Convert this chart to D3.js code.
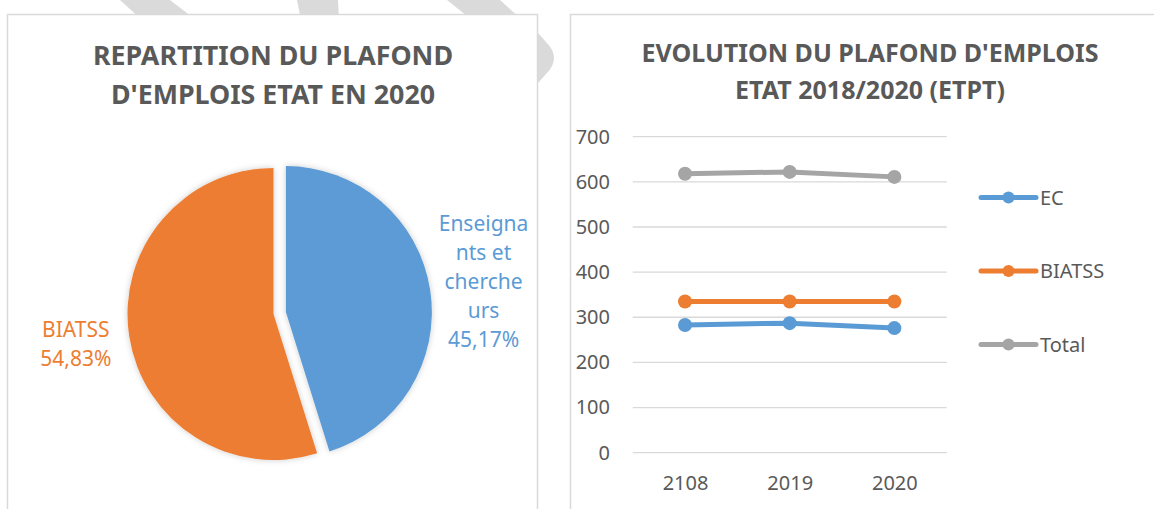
<!DOCTYPE html>
<html>
<head>
<meta charset="utf-8">
<script src="https://cdn.jsdelivr.net/npm/d3@7"></script>
<style>
  body { margin: 0; background: #fff; }
  svg { display: block; font-family: "Noto Sans", "Open Sans", sans-serif; }
</style>
</head>
<body>
<script>
// pie data (2020)
var pieNames = ["Enseignants et chercheurs", "BIATSS"];
var pieLabels = [["Enseigna", "nts et", "cherche", "urs", "45,17%"], ["BIATSS", "54,83%"]];
var pieValues = [45.17, 54.83];
var pieColors = ["#5b9bd5", "#ed7d31"];

// line chart data
var years = ["2108", "2019", "2020"];
var seriesNames = ["EC", "BIATSS", "Total"];
var ecValues = [283, 287, 276];
var biatssValues = [335, 335, 335];
var totalValues = [618, 622, 611];
var seriesColors = ["#5b9bd5", "#ed7d31", "#a5a5a5"];
var yTicks = [0, 100, 200, 300, 400, 500, 600, 700];

var width = 1154, height = 509;

var svg = d3.select("body").append("svg")
    .attr("width", width)
    .attr("height", height);

var defs = svg.append("defs");
var f = defs.append("filter").attr("id", "shadow")
    .attr("x", "-20%").attr("y", "-20%").attr("width", "140%").attr("height", "140%");
f.append("feDropShadow").attr("dx", 0).attr("dy", 0).attr("stdDeviation", 3)
    .attr("flood-color", "#000").attr("flood-opacity", 0.2);

// watermark bits peeking out behind the panels
var wm = svg.append("g").attr("fill", "#dadada");
wm.append("path").attr("d", "M120,0 L170,0 L196,20 L142,20 Z");
wm.append("path").attr("d", "M297,0 L338,0 L339,20 L301,20 Z");
wm.append("path").attr("d", "M447,0 L500,0 L522,20 L472,20 Z");
wm.append("path").attr("d", "M530,24 L546,42 Q562,58 546,74 L530,92 Z");

// panels
svg.append("rect").attr("x", 7.5).attr("y", 14.5).attr("width", 530).attr("height", 520)
    .attr("fill", "#fff").attr("stroke", "#d9d9d9").attr("stroke-width", 1.5);
svg.append("rect").attr("x", 570.5).attr("y", 14.5).attr("width", 620).attr("height", 520)
    .attr("fill", "#fff").attr("stroke", "#d9d9d9").attr("stroke-width", 1.5);

// ---------- pie ----------
var titleStyle = function (t, size) {
  t.attr("text-anchor", "middle").attr("font-weight", "bold")
    .attr("font-size", size).attr("fill", "#595959");
};
var t1 = svg.append("text").attr("x", 273).attr("y", 65).call(titleStyle, 26.8);
t1.append("tspan").attr("x", 273).text("REPARTITION DU PLAFOND");
t1.append("tspan").attr("x", 273).attr("dy", 39).text("D'EMPLOIS ETAT EN 2020");

var cx = 273.5, cy = 314, r = 146, explode = 12.5;
var pie = d3.pie().sort(null)(pieValues);
var arc = d3.arc().innerRadius(0).outerRadius(r);
var gPie = svg.append("g").attr("transform", "translate(" + cx + "," + cy + ")");

pie.forEach(function (d, i) {
  var mid = (d.startAngle + d.endAngle) / 2;
  var off = i === 0 ? explode : 0;
  var ox = Math.sin(mid) * off, oy = -Math.cos(mid) * off;
  var g = gPie.append("g").attr("transform", "translate(" + ox + "," + oy + ")");
  g.append("path").attr("d", arc(d)).attr("fill", pieColors[i]).attr("filter", "url(#shadow)");
  var lr = 200;
  var lx = Math.sin(mid) * lr, ly = -Math.cos(mid) * lr;
  var lines = pieLabels[i], lh = 29;
  var txt = g.append("text").attr("text-anchor", "middle").attr("font-size", 21)
      .attr("fill", pieColors[i])
      .attr("y", ly - (lines.length - 1) * lh / 2);
  lines.forEach(function (s, j) {
    txt.append("tspan").attr("x", lx).attr("dy", j === 0 ? "0.35em" : lh).text(s);
  });
});

// ---------- line chart ----------
var t2 = svg.append("text").attr("x", 870).attr("y", 62).call(titleStyle, 25);
t2.append("tspan").attr("x", 870).text("EVOLUTION DU PLAFOND D'EMPLOIS");
t2.append("tspan").attr("x", 870).attr("dy", 37).text("ETAT 2018/2020 (ETPT)");

var x = d3.scalePoint().domain(years).range([632.7, 946.7]).padding(0.5);
var y = d3.scaleLinear().domain([0, 700]).range([452.7, 136.7]);

var grid = svg.append("g");
grid.selectAll("line").data(yTicks).enter().append("line")
    .attr("x1", 632.7).attr("x2", 946.7)
    .attr("y1", function (d) { return y(d); })
    .attr("y2", function (d) { return y(d); })
    .attr("stroke", "#d9d9d9").attr("stroke-width", 1.3);

var yAxis = svg.append("g").attr("transform", "translate(610,0)")
    .call(d3.axisLeft(y).tickValues(yTicks).tickSize(0).tickPadding(0));
yAxis.select(".domain").remove();
yAxis.selectAll("text").attr("font-size", 20).attr("fill", "#595959")
    .attr("font-family", "Noto Sans, Open Sans, sans-serif").attr("text-anchor", "end");

var xAxis = svg.append("g").attr("transform", "translate(0,476)")
    .call(d3.axisBottom(x).tickSize(0).tickPadding(0));
xAxis.select(".domain").remove();
xAxis.selectAll("text").attr("font-size", 20).attr("fill", "#595959")
    .attr("font-family", "Noto Sans, Open Sans, sans-serif");

var allSeries = [ecValues, biatssValues, totalValues];
var line = d3.line()
    .x(function (d, i) { return x(years[i]); })
    .y(function (d) { return y(d); });

allSeries.forEach(function (vals, s) {
  var g = svg.append("g");
  g.append("path").attr("d", line(vals)).attr("fill", "none")
      .attr("stroke", seriesColors[s]).attr("stroke-width", 5)
      .attr("stroke-linejoin", "round").attr("stroke-linecap", "round");
  g.selectAll("circle").data(vals).enter().append("circle")
      .attr("cx", function (d, i) { return x(years[i]); })
      .attr("cy", function (d) { return y(d); })
      .attr("r", 7).attr("fill", seriesColors[s]);
});

// legend
var leg = svg.append("g");
seriesNames.forEach(function (name, s) {
  var ly = 197.5 + s * 73.5;
  leg.append("line").attr("x1", 981).attr("x2", 1036).attr("y1", ly).attr("y2", ly)
      .attr("stroke", seriesColors[s]).attr("stroke-width", 5).attr("stroke-linecap", "round");
  leg.append("circle").attr("cx", 1008.5).attr("cy", ly).attr("r", 6).attr("fill", seriesColors[s]);
  leg.append("text").attr("x", 1040).attr("y", ly).attr("dy", "0.35em")
      .attr("font-size", 20).attr("fill", "#595959").text(name);
});
</script>
</body>
</html>
